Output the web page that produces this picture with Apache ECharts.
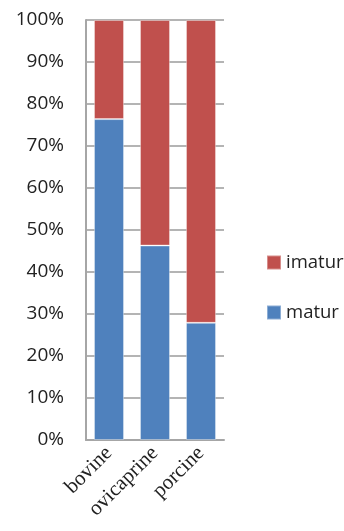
<!DOCTYPE html>
<html><head><meta charset="utf-8">
<script src="https://cdn.jsdelivr.net/npm/echarts@6/dist/echarts.min.js"></script>
<style>html,body{margin:0;padding:0;background:#fff}#c{width:344px;height:531px}</style>
</head><body><div id="c"></div>
<script>
var categories = ['bovine', 'ovicaprine', 'porcine'];
var matur = [76.4, 46.3, 27.9];
var imatur = [23.6, 53.7, 72.1];
var yTicks = [0, 10, 20, 30, 40, 50, 60, 70, 80, 90, 100];

var chart = echarts.init(document.getElementById('c'));
chart.setOption({
  animation: false,
  grid: {left: 86, top: 20, width: 138, height: 420, containLabel: false},
  legend: {
    orient: 'vertical', left: 266, top: 253, padding: 0, itemWidth: 14, itemHeight: 14, itemGap: 31,
    data: ['imatur', 'matur'],
    textStyle: {fontFamily: 'Open Sans', fontSize: 18.5, color: '#222'},
    icon: 'rect'
  },
  xAxis: {
    type: 'category', data: categories,
    axisLine: {lineStyle: {color: '#a6a6a6', width: 2}},
    axisTick: {show: false},
    axisLabel: {rotate: 45, interval: 0, margin: 10, fontFamily: 'Liberation Serif', fontSize: 21, color: '#222'}
  },
  yAxis: {
    type: 'value', min: 0, max: 100, interval: 10,
    axisLine: {show: true, lineStyle: {color: '#a6a6a6', width: 2}},
    axisTick: {show: false},
    splitLine: {lineStyle: {color: '#b4b4b4', width: 2}},
    axisLabel: {formatter: function (v) { return yTicks.indexOf(v) >= 0 ? v + '%' : ''; },
      margin: 22, fontFamily: 'Open Sans', fontSize: 19, color: '#222'}
  },
  series: [
    {name: 'matur', type: 'bar', stack: 's', data: matur, barWidth: 30,
     itemStyle: {color: '#4f81bd', borderColor: 'rgba(255,255,255,0.35)', borderWidth: 1}},
    {name: 'imatur', type: 'bar', stack: 's', data: imatur, barWidth: 30,
     itemStyle: {color: '#c0504d', borderColor: 'rgba(255,255,255,0.35)', borderWidth: 1}}
  ]
});
</script></body></html>
